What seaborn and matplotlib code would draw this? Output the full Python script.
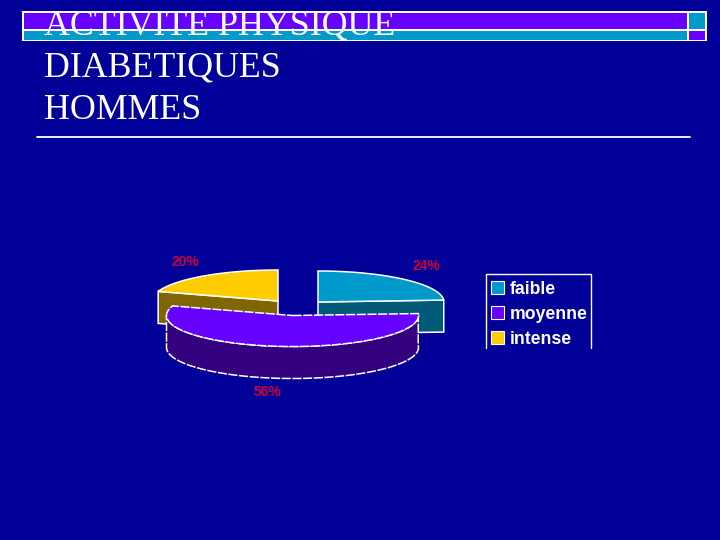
import numpy as np
import seaborn as sns
import matplotlib.pyplot as plt
from matplotlib.patches import Polygon, Rectangle, Patch

titre = ["ACTIVITE PHYSIQUE", "DIABETIQUES", "HOMMES"]
categories = ["faible", "moyenne", "intense"]
valeurs = [24, 56, 20]

bleu_fond = "#000099"
couleurs = ["#0099CC", "#6600FF", "#FFCC00"]
couleurs_cote = ["#005A78", "#330080", "#806600"]

sns.set_theme(style="white", rc={"figure.facecolor": bleu_fond, "axes.facecolor": bleu_fond})
plt.rcParams["font.family"] = ["Liberation Sans", "DejaVu Sans"]

fig = plt.figure(figsize=(7.2, 5.4), dpi=100)
ax = fig.add_axes([0, 0, 1, 1])
ax.set_xlim(0, 720)
ax.set_ylim(540, 0)
ax.axis("off")

# bandeau du haut
ax.add_patch(Rectangle((22, 11), 685, 30, fc="white", ec="none"))
ax.add_patch(Rectangle((24, 13), 663, 16, fc=couleurs[1], ec="none"))
ax.add_patch(Rectangle((24, 31), 663, 9, fc=couleurs[0], ec="none"))
ax.add_patch(Rectangle((689, 13), 16, 16, fc=couleurs[0], ec="none"))
ax.add_patch(Rectangle((689, 31), 16, 9, fc=couleurs[1], ec="none"))

# titre
for ligne, y in zip(titre, [34, 77, 119]):
    ax.text(44, y, ligne, color="white", fontsize=25.8, family="Liberation Serif", va="baseline")
ax.plot([37, 690], [137, 137], color="white", lw=1.3)

# camembert 3D
rx = 126
ry = 31
prof = 32
centres = [(318, 302), (292.5, 315.5), (278, 301)]


def arc(cx, cy, a0, a1):
    t = np.radians(np.linspace(a0, a1, 120))
    return cx + rx * np.cos(t), cy - ry * np.sin(t)


angles = 90 - np.cumsum([0] + valeurs) * 3.6

# ordre de dessin: faible, intense, moyenne
for i in [0, 2, 1]:
    cx, cy = centres[i]
    a0, a1 = angles[i], angles[i + 1]
    x, y = arc(cx, cy, a0, a1)
    trait = (0, (6, 1)) if i == 1 else "solid"

    # cote
    if i == 1:
        xc, yc = arc(cx, cy, a0, -180)
    elif i == 0:
        xc, yc = np.array([cx, x[-1]]), np.array([cy, y[-1]])
    else:
        xc, yc = np.array([x[0], cx]), np.array([y[0], cy])
    pts = np.r_[np.c_[xc, yc], np.c_[xc, yc + prof][::-1]]
    ax.add_patch(Polygon(pts, fc=couleurs_cote[i], ec="white", lw=1.1, ls=trait))

    # dessus
    pts = np.r_[[[cx, cy]], np.c_[x, y]]
    ax.add_patch(Polygon(pts, fc=couleurs[i], ec="white", lw=1.1, ls=trait))

# etiquettes
pos_etiq = [(426, 266), (267, 392), (185, 262)]
for v, (x, y) in zip(valeurs, pos_etiq):
    ax.text(x, y, f"{v}%", color="#CC0033", fontsize=10, fontweight="bold", ha="center", va="center")

# legende, le cadre est ouvert en bas
ax.plot([486, 486, 591, 591], [348, 274, 274, 348], color="white", lw=1)
poignees = [Patch(fc=c, ec="white", lw=0.8) for c in couleurs]
leg = ax.legend(poignees, categories, loc="upper left", bbox_to_anchor=(484, 274), bbox_transform=ax.transData,
                frameon=False, labelcolor="white", handlelength=0.75, handleheight=0.75,
                handletextpad=0.3, labelspacing=0.44, borderpad=0.4, borderaxespad=0,
                prop={"weight": "bold", "size": 12.7})

fig.savefig("out.png", dpi=100, facecolor=bleu_fond)
